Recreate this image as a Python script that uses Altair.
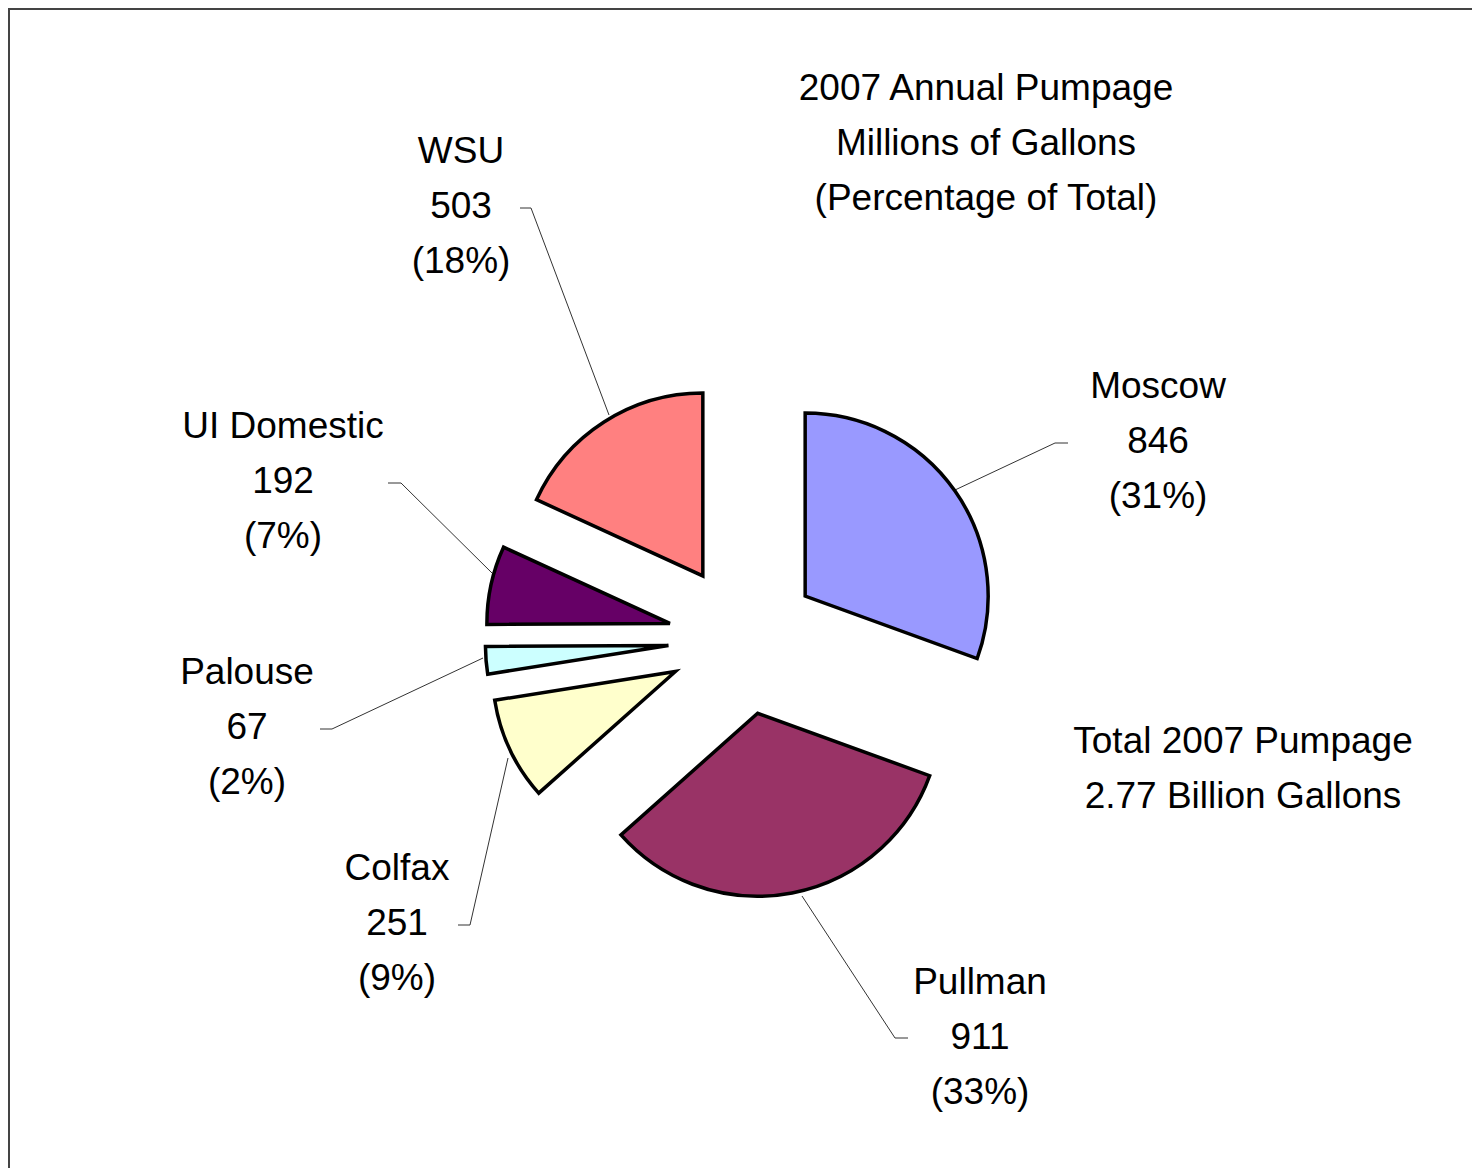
import math
import altair as alt
import pandas as pd

# ---- data ----
names = ["Moscow", "Pullman", "Colfax", "Palouse", "UI Domestic", "WSU"]
values = [846, 911, 251, 67, 192, 503]
colors = ["#9999FF", "#993366", "#FFFFCC", "#CCFFFF", "#660066", "#FF8080"]
title_lines = ["2007 Annual Pumpage", "Millions of Gallons", "(Percentage of Total)"]
total_lines = ["Total 2007 Pumpage", "2.77 Billion Gallons"]

# ---- layout (chart pixel coordinates) ----
W, H = 1464, 1160
CX, CY = 735.5, 631.3      # pie centre
EXPLODE = 75.3             # explode distance
R = 183                    # pie radius
FONT = "Liberation Sans"
FS = 37
LH = 55

label_pos = {
    "WSU": (453, 155),
    "UI Domestic": (275, 430),
    "Palouse": (239, 676),
    "Colfax": (389, 872),
    "Pullman": (972, 986),
    "Moscow": (1150, 390),
}
leaders = {
    "WSU": [(512, 200), (523, 200), (601, 407)],
    "UI Domestic": [(380, 475), (393, 475), (484, 565)],
    "Palouse": [(312, 721), (324, 721), (475, 650)],
    "Colfax": [(450, 917), (462, 917), (500, 750)],
    "Pullman": [(900, 1030), (887, 1030), (794, 888)],
    "Moscow": [(1060, 435), (1047, 435), (947, 482)],
}
title_pos = (978, 92)
total_pos = (1235, 745)

# ---- derived tables ----
tot = sum(values)
rows = []
cum = 0
for i, (n, v) in enumerate(zip(names, values)):
    mid = 2 * math.pi * (cum + v / 2) / tot
    cum += v
    rows.append({
        "idx": i, "name": n, "value": v,
        "cx": CX + EXPLODE * math.sin(mid),
        "cy": CY - EXPLODE * math.cos(mid),
        "label": f"{n}\n{v}\n({round(v / tot * 100)}%)",
        "lx": label_pos[n][0], "ly": label_pos[n][1],
    })
pie_df = pd.DataFrame(rows)

lead_rows = []
for n, pts in leaders.items():
    for k, (x, y) in enumerate(pts):
        lead_rows.append({"name": n, "k": k, "x": x, "y": y})
lead_df = pd.DataFrame(lead_rows)

notes_df = pd.DataFrame([
    {"t": "\n".join(title_lines), "x": title_pos[0], "y": title_pos[1]},
    {"t": "\n".join(total_lines), "x": total_pos[0], "y": total_pos[1]},
])

pie = alt.Chart(pie_df).mark_arc(
    radius=R, stroke="black", strokeWidth=3.5, strokeJoin="miter",
    x=alt.expr("datum.cx"), y=alt.expr("datum.cy"),
).encode(
    theta=alt.Theta("value:Q", stack=True),
    order=alt.Order("idx:Q"),
    color=alt.Color("name:N", scale=alt.Scale(domain=names, range=colors), legend=None),
)

lines = alt.Chart(lead_df).mark_line(color="#333333", strokeWidth=1).encode(
    x=alt.X("x:Q", scale=None, axis=None),
    y=alt.Y("y:Q", scale=None, axis=None),
    detail="name:N",
    order="k:Q",
)

labels = alt.Chart(pie_df).mark_text(
    font=FONT, fontSize=FS, lineHeight=LH, lineBreak="\n",
    align="center", baseline="alphabetic", color="black",
).encode(
    x=alt.X("lx:Q", scale=None, axis=None),
    y=alt.Y("ly:Q", scale=None, axis=None),
    text="label:N",
)

notes = alt.Chart(notes_df).mark_text(
    font=FONT, fontSize=FS, lineHeight=LH, lineBreak="\n",
    align="center", baseline="alphabetic", color="black",
).encode(
    x=alt.X("x:Q", scale=None, axis=None),
    y=alt.Y("y:Q", scale=None, axis=None),
    text="t:N",
)

border_top = alt.Chart(pd.DataFrame({"a": [0]})).mark_rule(color="#444444", strokeWidth=2).encode(
    x=alt.value(0), x2=alt.value(W), y=alt.value(1)
)
border_left = alt.Chart(pd.DataFrame({"a": [0]})).mark_rule(color="#444444", strokeWidth=2).encode(
    x=alt.value(1), y=alt.value(0), y2=alt.value(H)
)

chart = alt.layer(border_top, border_left, lines, pie, labels, notes).properties(
    width=W, height=H, padding=0, autosize=alt.AutoSizeParams(type="none"),
).configure_view(stroke=None)

chart.save("out.html", embed_options={"renderer": "svg", "actions": False})
